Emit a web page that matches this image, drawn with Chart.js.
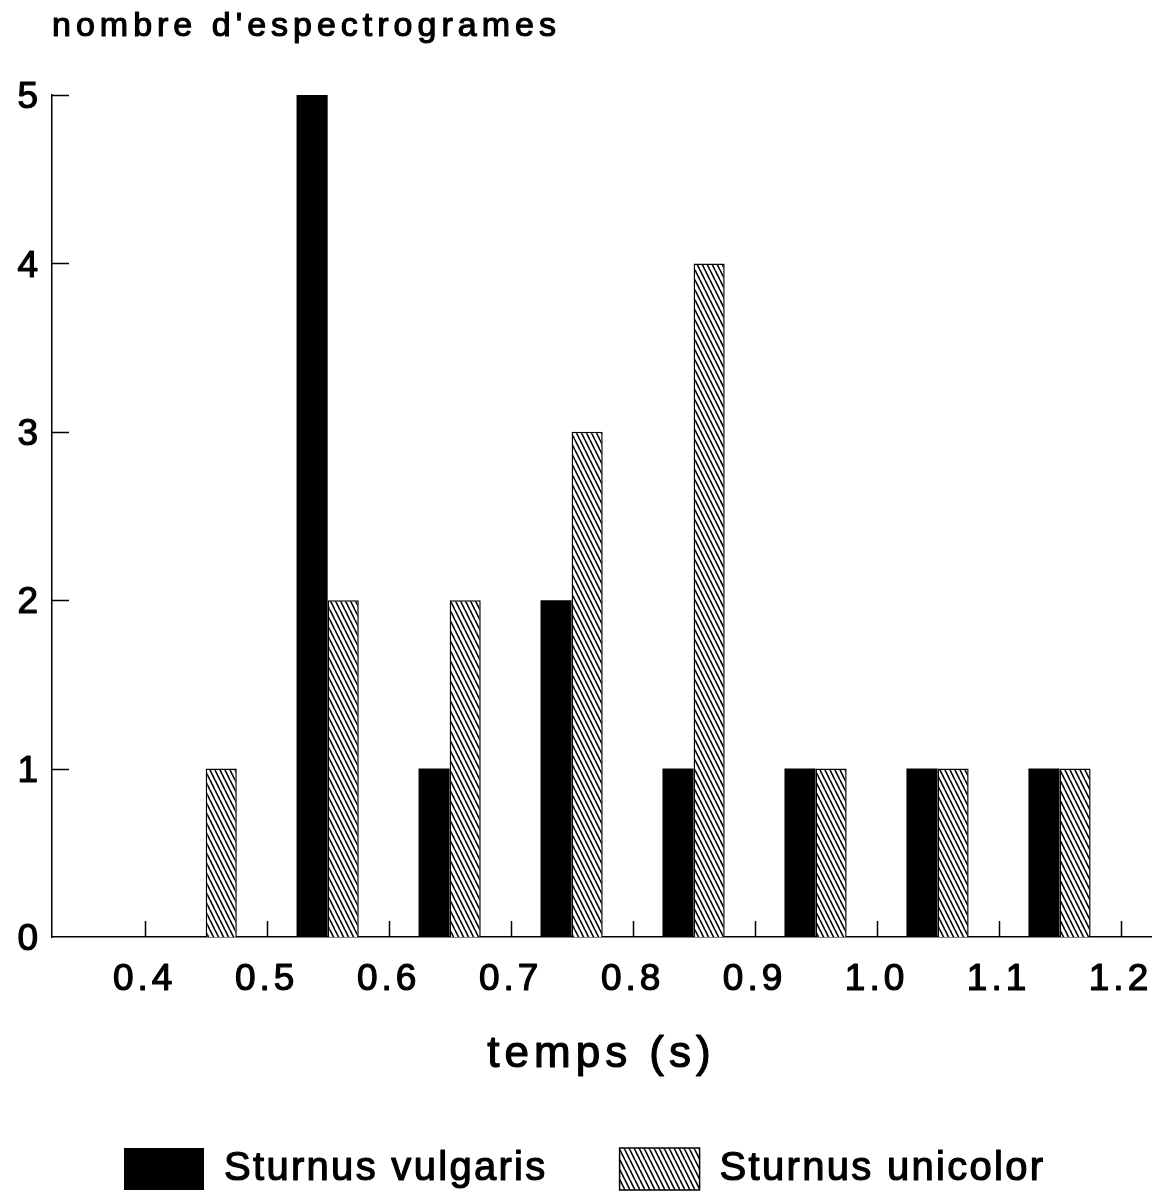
<!DOCTYPE html>
<html>
<head>
<meta charset="utf-8">
<title>nombre d'espectrogrames</title>
<script src="https://cdn.jsdelivr.net/npm/chart.js@4.4.1/dist/chart.umd.min.js"></script>
<style>
  html, body { margin: 0; padding: 0; background: #fff; }
  #wrap { width: 1158px; height: 1195px; position: relative; }
</style>
</head>
<body>
<div id="wrap"><canvas id="chart"></canvas></div>
<script>
// Song duration bins (centre of each 0.1 s class)
const binCentres = [0.45, 0.55, 0.65, 0.75, 0.85, 0.95, 1.05, 1.15];
// Number of spectrograms per class
const vulgaris = [0, 5, 1, 2, 1, 1, 1, 1];
const unicolor = [1, 2, 2, 3, 4, 1, 1, 1];
// Axis ticks
const tickValues = [0.4, 0.5, 0.6, 0.7, 0.8, 0.9, 1.0, 1.1, 1.2];
const tickLabels = ['0.4', '0.5', '0.6', '0.7', '0.8', '0.9', '1.0', '1.1', '1.2'];
const countTicks = [0, 1, 2, 3, 4, 5];

const FONT = "'Liberation Sans', Arial, Helvetica, sans-serif";

const canvas = document.getElementById('chart');
const ctx = canvas.getContext('2d');

// Wide typewriter-like tracking per text size, and a slightly heavier stroke
const TRACKING = { 34: 5, 37: 4, 40: 2.3, 44: 5 };
function applyTracking(c) {
  const m = /(\d+(?:\.\d+)?)px/.exec(c.font);
  const size = m ? Math.round(parseFloat(m[1])) : 0;
  c.letterSpacing = (TRACKING[size] || 0) + 'px';
}
const nativeFill = ctx.fillText;
const nativeStroke = ctx.strokeText;
const nativeMeasure = ctx.measureText;
ctx.fillText = function (text, x, y, maxWidth) {
  applyTracking(this);
  const args = maxWidth === undefined ? [text, x, y] : [text, x, y, maxWidth];
  nativeFill.apply(this, args);
  this.save();
  this.lineWidth = 1.2;
  this.lineJoin = 'round';
  this.strokeStyle = this.fillStyle;
  nativeStroke.apply(this, args);
  this.restore();
};
ctx.measureText = function (text) { applyTracking(this); return nativeMeasure.call(this, text); };

// Diagonal hatching ("\\\\") for the second species
function makeHatch() {
  const s = 5;
  const tile = document.createElement('canvas');
  tile.width = s;
  tile.height = 2 * s;
  const g = tile.getContext('2d');
  g.fillStyle = '#fff';
  g.fillRect(0, 0, s, 2 * s);
  g.strokeStyle = '#000';
  g.lineWidth = 1.6;
  for (const x0 of [-s, 0, s]) {
    g.beginPath();
    g.moveTo(x0, 0);
    g.lineTo(x0 + s, 2 * s);
    g.stroke();
  }
  return ctx.createPattern(tile, 'repeat');
}
const hatch = makeHatch();

// Short tick marks pointing into the plot area
const inwardTicks = {
  id: 'inwardTicks',
  afterDatasetsDraw(chart) {
    const { ctx: c, chartArea, scales: { x, y } } = chart;
    c.save();
    c.strokeStyle = '#000';
    c.lineWidth = 1.5;
    c.beginPath();
    y.ticks.forEach(t => {
      if (t.value === 0) return;
      const py = Math.round(y.getPixelForValue(t.value)) + 0.5;
      c.moveTo(chartArea.left, py);
      c.lineTo(chartArea.left + 17, py);
    });
    x.ticks.forEach(t => {
      const px = Math.round(x.getPixelForValue(t.value)) + 0.5;
      c.moveTo(px, chartArea.bottom);
      c.lineTo(px, chartArea.bottom - 16);
    });
    c.stroke();
    c.restore();
  }
};

Chart.defaults.color = '#000';
Chart.defaults.font.family = FONT;

new Chart(ctx, {
  type: 'bar',
  data: {
    datasets: [
      {
        label: 'Sturnus vulgaris',
        data: binCentres.map((b, i) => ({ x: b, y: vulgaris[i] })),
        backgroundColor: '#000',
        borderColor: '#000',
        borderWidth: 0
      },
      {
        label: 'Sturnus unicolor',
        data: binCentres.map((b, i) => ({ x: b, y: unicolor[i] })),
        backgroundColor: hatch,
        borderColor: '#000',
        borderWidth: 1.5
      }
    ]
  },
  options: {
    responsive: true,
    maintainAspectRatio: false,
    animation: false,
    events: [],
    layout: { padding: { left: 0, right: 7, top: 0, bottom: -5 } },
    datasets: {
      bar: { barPercentage: 1.0, categoryPercentage: 0.51, grouped: true }
    },
    scales: {
      x: {
        type: 'linear',
        min: 0.324,
        max: 1.225,
        offset: false,
        grid: { display: false, drawTicks: false, offset: false },
        border: { display: true, color: '#000', width: 1.5 },
        afterBuildTicks: axis => { axis.ticks = tickValues.map(v => ({ value: v })); },
        afterFit: scale => {
          scale.height = 139;
          scale.paddingLeft = 0;
          scale.paddingRight = 0;
        },
        ticks: {
          autoSkip: false,
          maxRotation: 0,
          padding: 21,
          font: { size: 37 },
          callback: (value) => {
            const i = tickValues.findIndex(v => Math.abs(v - value) < 1e-6);
            return i >= 0 ? tickLabels[i] : '';
          }
        },
        title: {
          display: true,
          text: 'temps (s)',
          font: { size: 44 },
          padding: { top: 0, bottom: -5 }
        }
      },
      y: {
        min: 0,
        max: 5,
        grid: { display: false, drawTicks: false },
        border: { display: true, color: '#000', width: 1.5 },
        afterBuildTicks: axis => { axis.ticks = countTicks.map(v => ({ value: v })); },
        afterFit: scale => { scale.width = 52; },
        ticks: { padding: 10, labelOffset: 3, font: { size: 37 } }
      }
    },
    plugins: {
      title: {
        display: true,
        fullSize: false,
        text: "nombre d'espectrogrames",
        align: 'start',
        font: { size: 34, weight: 'normal' },
        padding: { top: 5.8, bottom: 48.4 }
      },
      legend: {
        position: 'bottom',
        align: 'start',
        fullSize: false,
        labels: {
          boxWidth: 80,
          boxHeight: 42,
          padding: 72,
          font: { size: 40 }
        }
      },
      tooltip: { enabled: false }
    }
  },
  plugins: [inwardTicks]
});
</script>
</body>
</html>
